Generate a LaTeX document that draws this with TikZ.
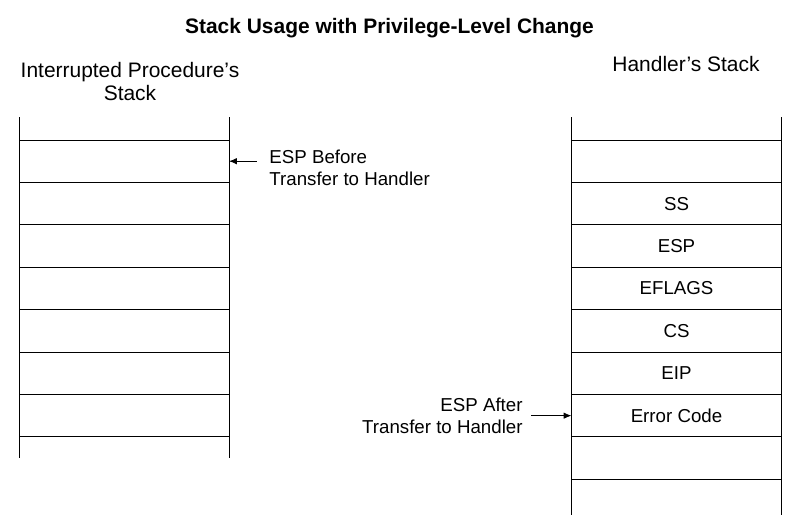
\documentclass[tikz,border=0pt]{standalone}
\usepackage{fontspec}
\setmainfont{Liberation Sans}
\usetikzlibrary{arrows.meta,positioning}

\begin{document}
\begin{tikzpicture}[
    x=0.025cm, y=-0.025cm,
    node distance=0pt,
    line width=0.6pt,
    cell/.style={rectangle, draw, minimum width=5.25cm, minimum height=1.06cm, inner sep=0pt, outer sep=0pt, font=\fontsize{13.3}{15.6}\selectfont},
    note/.style={inner sep=0pt, font=\fontsize{13.3}{15.6}\selectfont},
    head/.style={inner sep=0pt, align=center, font=\fontsize{14.9}{16.4}\selectfont},
    arrow/.style={-{Latex[length=5.5pt,width=4.5pt]}}
]
\useasboundingbox (0,0) rectangle (798,525);

\node[head, font=\bfseries\fontsize{14.9}{16.4}\selectfont, anchor=base] (title) at (389.5,34) {Stack Usage with Privilege-Level Change};
\node[head, anchor=north] (lefthead) at (130,62) {Interrupted Procedure's\\Stack};
\node[head, anchor=north] (righthead) at (686,56) {Handler's Stack};

% interrupted procedure's stack
\node[cell] (l1) at (124,161.2) {};
\node[cell, below=of l1] (l2) {};
\node[cell, below=of l2] (l3) {};
\node[cell, below=of l3] (l4) {};
\node[cell, below=of l4] (l5) {};
\node[cell, below=of l5] (l6) {};
\node[cell, below=of l6] (l7) {};
\draw (l1.north west) -- +(0,-23);
\draw (l1.north east) -- +(0,-23);
\draw (l7.south west) -- +(0,21);
\draw (l7.south east) -- +(0,21);

% handler's stack
\node[cell] (r1) at (676.5,161.2) {};
\node[cell, below=of r1] (r2) {SS};
\node[cell, below=of r2] (r3) {ESP};
\node[cell, below=of r3] (r4) {EFLAGS};
\node[cell, below=of r4] (r5) {CS};
\node[cell, below=of r5] (r6) {EIP};
\node[cell, below=of r6] (r7) {Error Code};
\node[cell, below=of r7] (r8) {};
\draw (r1.north west) -- +(0,-23);
\draw (r1.north east) -- +(0,-23);
\draw (r8.south west) -- +(0,36);
\draw (r8.south east) -- +(0,36);

% stack pointers
\node[note, anchor=north west, align=left] (before) at (269,150) {ESP Before\\Transfer to Handler};
\node[note, anchor=north east, align=right] (after) at (523,398) {ESP After\\Transfer to Handler};
\draw[arrow] ([xshift=-0.3cm]before.west |- l1.east) -- (l1.east);
\draw[arrow] ([xshift=0.2cm]after.east |- r7.west) -- (r7.west);
\end{tikzpicture}
\end{document}
